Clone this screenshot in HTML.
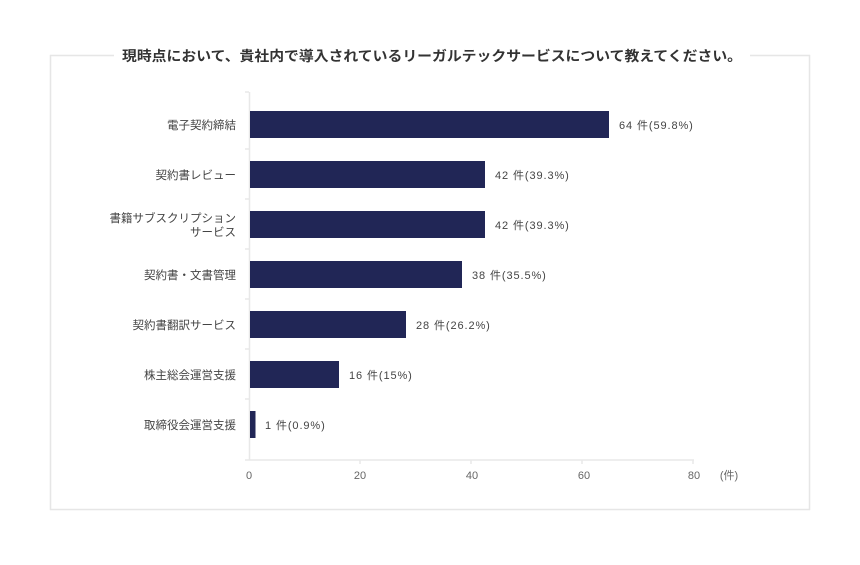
<!DOCTYPE html>
<html><head><meta charset="utf-8"><style>
body{margin:0;background:#fff;}
svg text{font-family:"Liberation Sans","Noto Sans CJK JP",sans-serif;}
</style></head><body>
<svg width="860" height="560" xmlns="http://www.w3.org/2000/svg">
<rect x="50.5" y="55.5" width="759" height="454" fill="none" stroke="#e6e6e6" stroke-width="1.5"/>
<rect x="114" y="44" width="636" height="24" fill="#fff"/>
<text x="122" y="61" textLength="620" lengthAdjust="spacingAndGlyphs" font-size="14" font-weight="bold" fill="#333">現時点において、貴社内で導入されているリーガルテックサービスについて教えてください。</text>
<g stroke="#e8e8e8" stroke-width="1.5">
<line x1="249.5" y1="92" x2="249.5" y2="460"/>
<line x1="245" y1="460" x2="694" y2="460"/>
<line x1="245" y1="92" x2="249" y2="92"/><line x1="245" y1="149" x2="249" y2="149"/><line x1="245" y1="199" x2="249" y2="199"/><line x1="245" y1="249" x2="249" y2="249"/><line x1="245" y1="299" x2="249" y2="299"/><line x1="245" y1="349" x2="249" y2="349"/><line x1="245" y1="399" x2="249" y2="399"/>
<line x1="360" y1="460" x2="360" y2="464"/><line x1="471" y1="460" x2="471" y2="464"/><line x1="582" y1="460" x2="582" y2="464"/><line x1="693" y1="460" x2="693" y2="464"/>
</g>
<g fill="#212656">
<rect x="250" y="111" width="359" height="27"/>
<rect x="250" y="161" width="235" height="27"/>
<rect x="250" y="211" width="235" height="27"/>
<rect x="250" y="261" width="212" height="27"/>
<rect x="250" y="311" width="156" height="27"/>
<rect x="250" y="361" width="89" height="27"/>
<rect x="250" y="411" width="5.5" height="27"/>
</g>
<g font-size="11" fill="#444" letter-spacing="0.9">
<text x="619" y="129">64 件(59.8%)</text>
<text x="495" y="179">42 件(39.3%)</text>
<text x="495" y="229">42 件(39.3%)</text>
<text x="472" y="279">38 件(35.5%)</text>
<text x="416" y="329">28 件(26.2%)</text>
<text x="349" y="379">16 件(15%)</text>
<text x="265" y="429">1 件(0.9%)</text>
</g>
<g font-size="11.5" fill="#444" text-anchor="end">
<text x="236" y="129">電子契約締結</text>
<text x="236" y="179">契約書レビュー</text>
<text x="236" y="222">書籍サブスクリプション</text>
<text x="236" y="236">サービス</text>
<text x="236" y="279">契約書・文書管理</text>
<text x="236" y="329">契約書翻訳サービス</text>
<text x="236" y="379">株主総会運営支援</text>
<text x="236" y="429">取締役会運営支援</text>
</g>
<g font-size="11" fill="#666" text-anchor="middle">
<text x="249" y="479">0</text><text x="360" y="479">20</text><text x="472" y="479">40</text><text x="584" y="479">60</text><text x="694" y="479">80</text>
<text x="729" y="479">(件)</text>
</g>
</svg>
</body></html>
